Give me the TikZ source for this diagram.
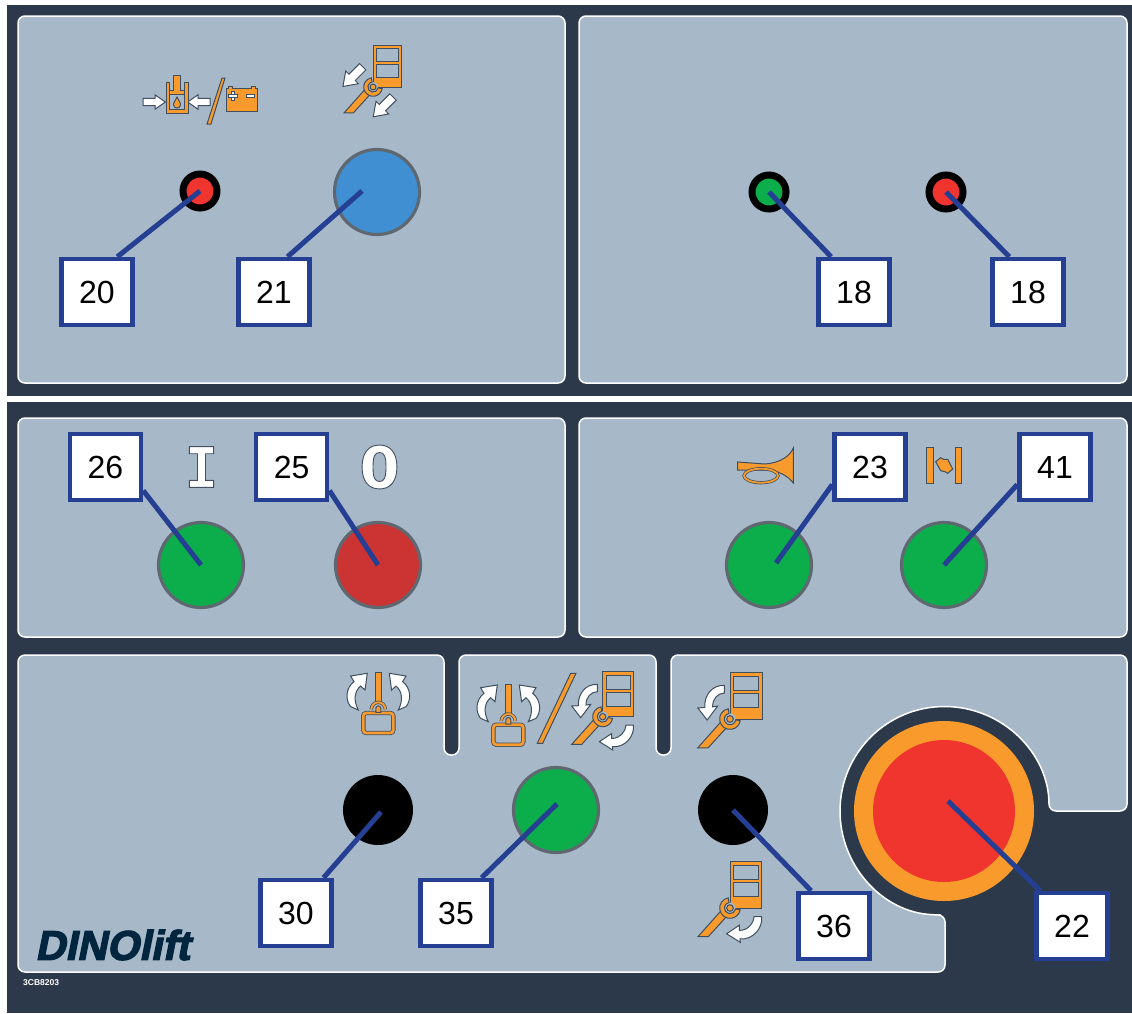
\documentclass[tikz,border=0pt]{standalone}
\usepackage{fontspec}
\setmainfont{Liberation Sans}
\newfontfamily\slabglyph{DejaVu Sans Mono}
\newfontfamily\zeroglyph{DejaVu Sans}
\newfontfamily\logofont[BoldFeatures={FakeBold=3,FakeSlant=0.2}]{Liberation Sans}
\usetikzlibrary{positioning}

\definecolor{paneldark}{HTML}{2C394A}
\definecolor{panelblue}{HTML}{A7B9C9}
\definecolor{iconorange}{HTML}{F99A2C}
\definecolor{iconline}{HTML}{3F4F60}
\definecolor{leaderblue}{HTML}{253F92}
\definecolor{ringgray}{HTML}{5F6870}
\definecolor{lampred}{HTML}{F0352E}
\definecolor{lampgreen}{HTML}{0BAE4B}
\definecolor{stopred}{HTML}{CC3333}
\definecolor{pushblue}{HTML}{3F8FD2}
\definecolor{logonavy}{HTML}{00263F}

\newcommand{\outlined}[1]{\special{pdf:code q 2 Tr 0.9 w 0.25 0.31 0.38 RG 1 1 1 rg}#1\special{pdf:code Q}}

\tikzset{
  panel/.style={fill=panelblue, draw=white, line width=1.5pt, rounded corners=7pt},
  labelbox/.style={draw=leaderblue, fill=white, line width=4.5pt, inner sep=0pt,
    minimum width=71pt, minimum height=66pt, font=\fontsize{32}{32}\selectfont},
  leader/.style={draw=leaderblue, line width=5pt},
  pushbtn/.style={circle, draw=ringgray, line width=3.2pt, inner sep=0pt, minimum size=85pt},
  blackbtn/.style={circle, fill=black, inner sep=0pt, minimum size=70pt},
  lamp/.style={circle, draw=black, line width=7pt, inner sep=0pt, minimum size=34pt},
  orangepart/.style={fill=iconorange, draw=iconline, line width=1pt},
  whitepart/.style={fill=white, draw=iconline, line width=1pt},
  pics/blockarrow/.style={code={
    \path[whitepart] (0,-4.5) -- (15,-4.5) -- (15,-9) -- (28,0) -- (15,9) -- (15,4.5) -- (0,4.5) -- cycle;
  }},
  pics/doorwrench/.style={code={
    \path[orangepart] (0,0) rectangle (31,45);
    \path[fill=panelblue, draw=iconline, line width=1pt] (3.3,27.3) rectangle (27.7,41.3);
    \path[fill=panelblue, draw=iconline, line width=1pt] (3.3,10.7) rectangle (27.7,24.7);
    \path[fill=panelblue] (0,0) circle (5.5);
    \path[orangepart] (-31,-27.7) -- (-21,-27.7) -- (-4,-9) -- (-9,-3) -- cycle;
    \path[orangepart] (100:10) arc[start angle=100, end angle=350, radius=10] -- (350:5.5)
      arc[start angle=350, end angle=100, radius=5.5] -- cycle;
    \path[orangepart] (0,0) circle (3.2);
  }},
  pics/turnupper/.style={code={
    \path[whitepart] (-5.3,32.3) .. controls (-17,33) and (-25,23) .. (-24.3,11) -- (-31,10.7) -- (-22,-1)
      -- (-12,12.3) -- (-16.7,11.7) .. controls (-17,19) and (-12,25) .. (-5.3,25) -- cycle;
  }},
  pics/turnlower/.style={code={
    \path[whitepart] (30.7,-8.3) .. controls (32,-20) and (22,-31) .. (9.7,-30) -- (10,-33.3) -- (-3.3,-25)
      -- (9,-16.7) -- (9,-21.7) .. controls (17,-22) and (23,-15) .. (23.3,-8.3) -- cycle;
  }},
  pics/basketlever/.style={code={
    % rotation arrows
    \path[whitepart] (-27.7,1.7) .. controls (-33,8) and (-33,20) .. (-24.3,26.7) -- (-27.7,32.3) -- (-11,35)
      -- (-13.3,18.3) -- (-17.7,22.3) .. controls (-24,17) and (-25,8) .. (-20,-1.7) -- cycle;
    \path[whitepart] (27.7,1.7) .. controls (33,8) and (33,20) .. (24.3,26.7) -- (27.7,32.3) -- (11,35)
      -- (13.3,18.3) -- (17.7,22.3) .. controls (24,17) and (25,8) .. (20,-1.7) -- cycle;
    % stem and basket
    \path[orangepart] (-3,6) rectangle (3,36);
    \draw[iconline, line width=4.4pt, rounded corners=3pt] (-15,-4.7) rectangle (15,-24.7);
    \draw[iconorange, line width=2.8pt, rounded corners=3pt] (-15,-4.7) rectangle (15,-24.7);
    \draw[iconline, line width=3.4pt] (-7,-1) arc[start angle=180, end angle=0, radius=7];
    \draw[iconorange, line width=2pt] (-7,-1) arc[start angle=180, end angle=0, radius=7];
    \path[orangepart] (-2.5,-4) -- (-2.5,0) arc[start angle=180, end angle=0, radius=2.5] -- (2.5,-4) -- cycle;
  }}
}

\begin{document}
\begin{tikzpicture}[x=1pt, y=1pt]
\useasboundingbox (0,0) rectangle (1132,-1013);

% Backing plates
\fill[paneldark] (7,-5) rectangle (1132,-396);
\fill[paneldark] (7,-402) rectangle (1132,-1013);

% Panels
\path[panel] (18,-16) rectangle (565,-383);
\path[panel] (579,-16) rectangle (1127,-383);
\path[panel] (18,-418) rectangle (565,-637);
\path[panel] (579,-418) rectangle (1127,-637);
\path[panel] (18,-655) -- (444,-655) -- (444,-755) -- (459,-755) -- (459,-655) -- (656,-655) -- (656,-755)
  -- (671,-755) -- (671,-655) -- (1127,-655) -- (1127,-811) -- (1049,-811)
  arc[start angle=0, end angle=264, radius=104.5] -- (945,-915) -- (945,-972) -- (18,-972) -- cycle;

% Buttons
\node[lamp, fill=lampred] (lamp20) at (200,-191) {};
\node[pushbtn, fill=pushblue] (btn21) at (377,-192) {};
\node[lamp, fill=lampgreen] (lamp18a) at (769,-192) {};
\node[lamp, fill=lampred] (lamp18b) at (946,-192) {};
\node[pushbtn, fill=lampgreen] (btn26) at (201,-565) {};
\node[pushbtn, fill=stopred] (btn25) at (378,-565) {};
\node[pushbtn, fill=lampgreen] (btn23) at (769,-565) {};
\node[pushbtn, fill=lampgreen] (btn41) at (944,-565) {};
\node[blackbtn] (btn30) at (378,-810) {};
\node[pushbtn, fill=lampgreen] (btn35) at (556,-810) {};
\node[blackbtn] (btn36) at (733,-810) {};
\node[circle, fill=iconorange, inner sep=0pt, minimum size=180pt] (stoprim) at (944,-811) {};
\node[circle, fill=lampred, inner sep=0pt, minimum size=142pt] (stopcap) at (944,-811) {};

% Leader ends
\coordinate (end21) at (362,-191);
\coordinate (end23) at (776,-563);
\coordinate (end30) at (381,-812);
\coordinate (end35) at (557,-804);
\coordinate (end22) at (948,-801);

% Label boxes
\node[labelbox] (lab20) at (97,-292) {20};
\node[labelbox] (lab21) at (274,-292) {21};
\node[labelbox] (lab18a) at (854,-292) {18};
\node[labelbox] (lab18b) at (1028,-292) {18};
\node[labelbox] (lab26) at (105.5,-467) {26};
\node[labelbox] (lab25) at (291.7,-467) {25};
\node[labelbox] (lab23) at (870,-467) {23};
\node[labelbox] (lab41) at (1055,-467) {41};
\node[labelbox] (lab30) at (296,-913) {30};
\node[labelbox] (lab35) at (456,-913) {35};
\node[labelbox] (lab36) at (834,-926) {36};
\node[labelbox] (lab22) at (1072,-926) {22};

% Leaders
\draw[leader] (lab20.60) -- (lamp20.center);
\draw[leader] (lab21.69) -- (end21);
\draw[leader] (lab18a.123) -- (lamp18a.center);
\draw[leader] (lab18b.118) -- (lamp18b.center);
\draw[leader] (lab26.-32) -- (btn26.center);
\draw[leader] (lab25.-32) -- (btn25.center);
\draw[leader] (lab23.205) -- (end23);
\draw[leader] (lab41.205) -- (btn41.center);
\draw[leader] (lab30.52) -- (end30);
\draw[leader] (lab35.54) -- (end35);
\draw[leader] (lab36.123) -- (btn36.center);
\draw[leader] (lab22.132) -- (end22);

% Oil and battery symbol
\pic[scale=.8] at (143,-102) {blockarrow};
\pic[scale=.8, rotate=180] at (210,-102) {blockarrow};
\path[orangepart] (166,-82) -- (169.5,-82) -- (169.5,-109.5) -- (184.5,-109.5) -- (184.5,-82) -- (188,-82) -- (188,-113) -- (166,-113) -- cycle;
\path[orangepart] (173,-75) -- (180,-75) -- (180,-90) -- (184,-90) -- (184,-94) -- (169,-94) -- (169,-90) -- (173,-90) -- cycle;
\path[orangepart] (177,-97) .. controls (178,-100) and (181,-103) .. (180.5,-105) .. controls (180,-109) and (174,-109) .. (173.5,-105) .. controls (173,-103) and (176,-100) .. (177,-97) -- cycle;
\path[orangepart] (207,-124) -- (211,-124) -- (225,-78) -- (222,-78) -- cycle;
\path[orangepart] (228,-88) -- (228,-86) -- (232,-86) -- (232,-88) -- (251,-88) -- (251,-86) -- (255,-86) -- (255,-88) -- (257,-88) -- (257,-111) -- (226,-111) -- (226,-88) -- cycle;
\path[whitepart] (231.5,-91.5) rectangle (234.5,-100.5);
\path[whitepart] (228.5,-94.5) rectangle (237.5,-97.5);
\path[whitepart] (246,-94.5) rectangle (254,-97.5);

% Door and wrench symbols
\pic[rotate=225] at (362.7,-66.7) {blockarrow};
\pic[rotate=225] at (393,-97) {blockarrow};
\pic[scale=.93] at (373,-87) {doorwrench};
\pic at (378.3,-708.3) {basketlever};
\pic at (508.3,-720) {basketlever};
\path[orangepart] (537.3,-743.3) -- (542.7,-743.3) -- (576,-673.3) -- (570.7,-673.3) -- cycle;
\pic at (602.7,-716.7) {doorwrench};
\pic at (602.7,-716.7) {turnupper};
\pic at (602.7,-716.7) {turnlower};
\pic[scale=1.04] at (730,-719) {doorwrench};
\pic[scale=1.04] at (730,-719) {turnupper};
\pic[scale=1.03] at (730,-908) {doorwrench};
\pic[scale=1.03] at (730,-908) {turnlower};

% Horn and beacon symbols
\path[orangepart] (737.7,-462) -- (765,-464) .. controls (780,-463) and (790,-456) .. (793.3,-448) -- (793.3,-483) .. controls (788,-476) and (778,-470) .. (765,-470) -- (737.7,-470) -- cycle;
\draw[iconline, line width=3.2pt] (761,-475.7) ellipse (17 and 7);
\draw[iconorange, line width=1.8pt] (761,-475.7) ellipse (17 and 7);
\path[orangepart] (926.7,-447) rectangle (933.3,-483);
\path[orangepart] (955,-447) rectangle (961.7,-483);
\path[orangepart] (935.7,-461.7) -- (940.7,-457.7) -- (943.3,-459.3) -- (947.7,-459.3) -- (952.7,-469) -- (947.7,-473.3) -- (945,-471.7) -- (940.7,-470.7) -- cycle;

% On and off marks
\node[inner sep=0pt, font=\slabglyph\bfseries\fontsize{56}{56}\selectfont, text=white] (markon) at (201.5,-467) {\outlined{I}};
\node[inner sep=0pt, font=\zeroglyph\bfseries\fontsize{58}{58}\selectfont, text=white] (markoff) at (379.5,-467) {\outlined{0}};

% Logo and part number
\node[inner sep=0pt, anchor=west, text=logonavy, font=\logofont\bfseries\fontsize{41.5}{43}\selectfont] (logo) at (35,-945) {DINOlift};
\node[inner sep=0pt, anchor=west, text=white, font=\bfseries\fontsize{8.5}{9}\selectfont] (partno) at (23,-982.5) {3CB8203};

\end{tikzpicture}
\end{document}
